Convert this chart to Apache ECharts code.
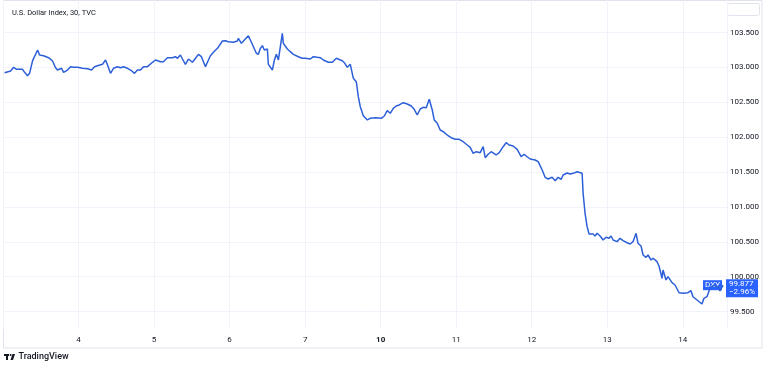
<!DOCTYPE html>
<html>
<head>
<meta charset="utf-8">
<script src="https://cdn.jsdelivr.net/npm/echarts@6/dist/echarts.min.js"></script>
<style>
html,body{margin:0;padding:0;background:#fff;}
#chart{width:768px;height:368px;}
</style>
</head>
<body>
<div id="chart"></div>
<script>
// Trading-day axis: 0 = Mar 3 open, 1 = day "4", ... 5 = day "10", ... 9 = day "14"
const dayTicks = ['3', '4', '5', '6', '7', '10', '11', '12', '13', '14'];
const boldTick = '10';
const title = 'U.S. Dollar Index, 30, TVC';
const symbol = 'DXY';
const lastPriceText = '99.877';
const changeText = '\u22122.96%';

const times = [
  0.021, 0.101, 0.140, 0.180, 0.206, 0.259, 0.286, 0.325, 0.352, 0.392,
  0.405, 0.458, 0.484, 0.537, 0.563, 0.603, 0.656, 0.696, 0.722, 0.775,
  0.802, 0.854, 0.894, 0.934, 0.987, 1.053, 1.119, 1.172, 1.212, 1.251,
  1.317, 1.357, 1.384, 1.423, 1.463, 1.516, 1.556, 1.595, 1.648, 1.701,
  1.741, 1.780, 1.820, 1.860, 1.913, 1.979, 2.019, 2.085, 2.124, 2.177,
  2.243, 2.283, 2.310, 2.349, 2.376, 2.415, 2.455, 2.508, 2.548, 2.587,
  2.627, 2.680, 2.720, 2.746, 2.786, 2.839, 2.865, 2.905, 2.944, 2.984,
  3.050, 3.103, 3.116, 3.156, 3.196, 3.249, 3.275, 3.315, 3.354, 3.381,
  3.407, 3.434, 3.460, 3.500, 3.513, 3.566, 3.593, 3.619, 3.646, 3.698,
  3.712, 3.738, 3.765, 3.804, 3.844, 3.910, 3.963, 4.003, 4.069, 4.108,
  4.161, 4.201, 4.241, 4.307, 4.360, 4.413, 4.439, 4.492, 4.519, 4.558,
  4.598, 4.624, 4.638, 4.677, 4.704, 4.730, 4.770, 4.823, 4.862, 4.929,
  4.955, 5.008, 5.048, 5.087, 5.127, 5.167, 5.206, 5.246, 5.299, 5.325,
  5.352, 5.405, 5.444, 5.484, 5.524, 5.563, 5.603, 5.643, 5.683, 5.709,
  5.749, 5.788, 5.828, 5.881, 5.934, 5.987, 6.040, 6.093, 6.146, 6.185,
  6.225, 6.265, 6.318, 6.357, 6.384, 6.423, 6.463, 6.489, 6.529, 6.569,
  6.622, 6.661, 6.701, 6.754, 6.807, 6.860, 6.899, 6.939, 6.979, 7.045,
  7.085, 7.138, 7.177, 7.217, 7.270, 7.310, 7.349, 7.389, 7.415, 7.468,
  7.508, 7.548, 7.601, 7.627, 7.667, 7.680, 7.706, 7.733, 7.759, 7.812,
  7.839, 7.865, 7.905, 7.945, 7.984, 8.024, 8.050, 8.077, 8.130, 8.169,
  8.209, 8.262, 8.302, 8.341, 8.381, 8.407, 8.447, 8.474, 8.513, 8.540,
  8.579, 8.606, 8.659, 8.685, 8.725, 8.738, 8.778, 8.804, 8.857, 8.897,
  8.950, 9.003, 9.069, 9.108, 9.135, 9.188, 9.254, 9.280, 9.320, 9.360,
  9.413, 9.466, 9.492, 9.532
];

const prices = [
  102.924, 102.948, 103.001, 102.972, 102.987, 102.972, 102.929, 102.881, 102.915, 103.096,
  103.116, 103.249, 103.177, 103.167, 103.192, 103.139, 103.091, 102.995, 102.962, 102.987,
  102.929, 102.962, 103.010, 103.001, 103.001, 102.987, 102.981, 102.962, 103.010, 103.024,
  103.044, 103.106, 103.034, 102.915, 102.987, 103.010, 102.995, 103.010, 102.987, 102.952,
  102.915, 102.962, 102.962, 103.010, 103.010, 103.073, 103.106, 103.081, 103.081, 103.139,
  103.139, 103.153, 103.130, 103.177, 103.120, 103.044, 103.120, 103.073, 103.130, 103.187,
  103.153, 103.010, 103.106, 103.167, 103.216, 103.273, 103.288, 103.378, 103.382, 103.368,
  103.359, 103.378, 103.417, 103.345, 103.392, 103.454, 103.392, 103.296, 103.202, 103.187,
  103.273, 103.311, 103.249, 103.263, 103.044, 102.962, 103.106, 103.187, 103.106, 103.489,
  103.345, 103.368, 103.263, 103.225, 103.187, 103.153, 103.130, 103.130, 103.120, 103.153,
  103.144, 103.139, 103.106, 103.073, 103.073, 103.130, 103.106, 103.096, 103.067, 103.001,
  103.044, 103.058, 102.843, 102.795, 102.580, 102.436, 102.307, 102.246, 102.270, 102.278,
  102.293, 102.270, 102.303, 102.379, 102.342, 102.413, 102.446, 102.461, 102.494, 102.522,
  102.475, 102.446, 102.399, 102.317, 102.403, 102.428, 102.422, 102.542, 102.389, 102.246,
  102.198, 102.102, 102.078, 102.030, 101.992, 101.969, 101.969, 101.934, 101.887, 101.854,
  101.768, 101.791, 101.777, 101.863, 101.705, 101.754, 101.791, 101.815, 101.744, 101.777,
  101.863, 101.920, 101.887, 101.873, 101.825, 101.719, 101.754, 101.719, 101.686, 101.672,
  101.648, 101.529, 101.424, 101.400, 101.424, 101.375, 101.424, 101.395, 101.457, 101.486,
  101.471, 101.481, 101.504, 101.529, 101.481, 101.195, 100.908, 100.716, 100.611, 100.611,
  100.582, 100.621, 100.582, 100.525, 100.564, 100.549, 100.582, 100.525, 100.501, 100.549,
  100.515, 100.486, 100.468, 100.501, 100.621, 100.478, 100.439, 100.310, 100.277, 100.310,
  100.238, 100.263, 100.214, 100.152, 99.976, 100.095, 99.952, 99.999, 99.913, 99.880,
  99.769, 99.761, 99.769, 99.798, 99.712, 99.665, 99.607, 99.689, 99.712, 99.833,
  99.880, 99.851, 99.794, 99.877
];

const lineData = times.map((t, i) => [t, prices[i]]);
const last = lineData[lineData.length - 1];
const FONT = 'Roboto, "Liberation Sans", sans-serif';
const TEXT = '#131722';
const GRIDC = '#f0f3fa';
const BLUE = '#2962ff';
const LINE = '#2d5fd8';

const chart = echarts.init(document.getElementById('chart'), null, {renderer: 'canvas'});
chart.setOption({
  animation: false,
  backgroundColor: '#ffffff',
  title: {
    text: title, left: 7, top: 4,
    textStyle: {fontFamily: FONT, fontSize: 7.5, fontWeight: 'normal', color: TEXT}
  },
  grid: [
    {left: 2.4, right: 41, top: 0, bottom: 39},
    {left: 4, right: 41, top: 32.5, bottom: 56.5}
  ],
  xAxis: [
    {
      gridIndex: 0, type: 'value', min: 0, max: 9.585, interval: 1,
      axisLine: {show: false}, axisTick: {show: false},
      splitLine: {show: true, lineStyle: {color: GRIDC, width: 1}},
      axisLabel: {
        margin: 7, fontFamily: FONT, fontSize: 8, color: TEXT,
        showMaxLabel: false,
        formatter: function (v) {
          const i = Math.round(v);
          if (i === 0 || i >= dayTicks.length) return '';
          const s = dayTicks[i];
          return s === boldTick ? '{b|' + s + '}' : s;
        },
        rich: {b: {fontFamily: FONT, fontSize: 8, fontWeight: 'bold', color: TEXT}}
      }
    },
    {gridIndex: 1, type: 'value', min: 0, max: 1, show: false, splitLine: {show: false}}
  ],
  yAxis: [
    {
      gridIndex: 0, type: 'value', min: 99.249, max: 103.966,
      show: false, splitLine: {show: false}
    },
    {
      gridIndex: 1, type: 'value', min: 99.5, max: 103.5, interval: 0.5, position: 'right',
      axisLine: {show: false}, axisTick: {show: false},
      splitLine: {show: true, lineStyle: {color: GRIDC, width: 1}},
      axisLabel: {
        margin: 3, fontFamily: FONT, fontSize: 8, color: TEXT,
        formatter: v => v.toFixed(3)
      }
    }
  ],
  series: [{
    type: 'line', xAxisIndex: 0, yAxisIndex: 0,
    data: lineData, showSymbol: false, symbol: 'none',
    lineStyle: {color: LINE, width: 1.5},
    endLabel: {
      show: true, distance: 3, offset: [0, 3],
      formatter: lastPriceText + '\n' + changeText,
      backgroundColor: BLUE, color: '#fff',
      fontFamily: FONT, fontSize: 8, lineHeight: 8.5,
      padding: [1, 3, 0, 3], align: 'left'
    },
    markPoint: {
      symbol: 'rect', symbolSize: 0, silent: true,
      data: [{coord: last, value: symbol}],
      label: {
        show: true, position: 'left', distance: 1,
        formatter: symbol,
        backgroundColor: BLUE, color: '#fff',
        fontFamily: FONT, fontSize: 8, padding: [1, 2, 1, 2]
      }
    },
    z: 5
  }],
  graphic: [
    {type: 'rect', shape: {x: 3.5, y: 0.5, width: 758.5, height: 347.5},
      style: {fill: 'none', stroke: '#e0e3eb', lineWidth: 1}, silent: true, z: 0},
    {type: 'rect', shape: {x: 727.5, y: 3.5, width: 32, height: 12, r: 2},
      style: {fill: '#fff', stroke: '#e0e3eb', lineWidth: 1}, silent: true},
    {type: 'group', left: 4, top: 354, children: [
      {type: 'rect', shape: {x: 0, y: 0, width: 5, height: 2}, style: {fill: TEXT}},
      {type: 'rect', shape: {x: 2, y: 0, width: 2, height: 6}, style: {fill: TEXT}},
      {type: 'circle', shape: {cx: 6.6, cy: 1, r: 1}, style: {fill: TEXT}},
      {type: 'polygon', shape: {points: [[8.5, 0], [11, 0], [9, 6], [6.5, 6]]}, style: {fill: TEXT}}
    ]},
    {type: 'text', left: 18.5, top: 352.5,
      style: {text: 'TradingView', font: '500 9px ' + FONT, fill: TEXT}}
  ]
});
</script>
</body>
</html>
